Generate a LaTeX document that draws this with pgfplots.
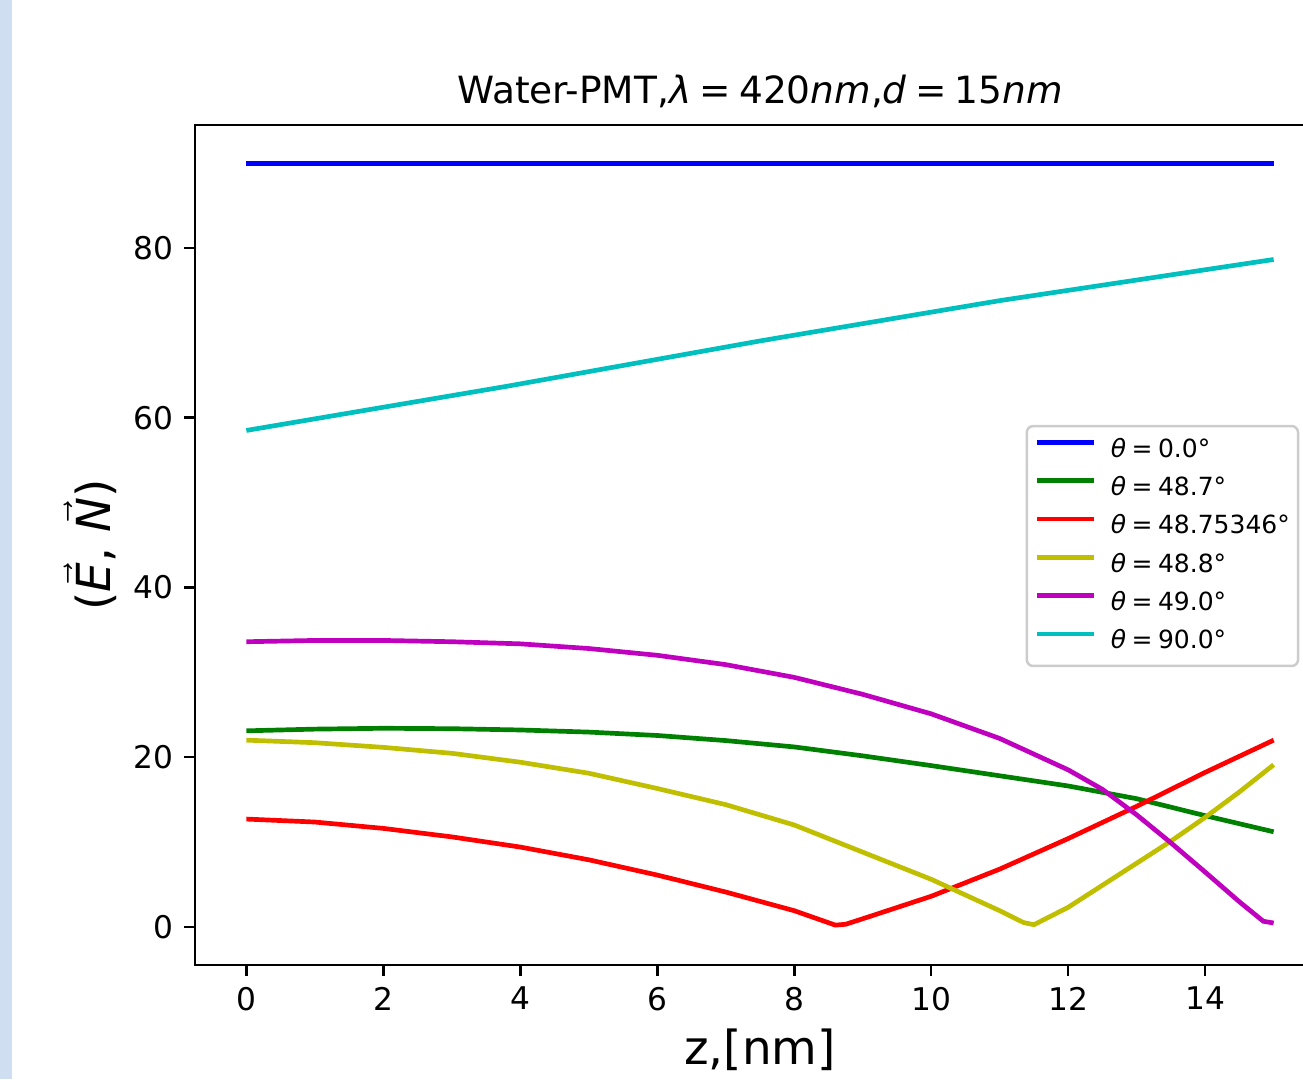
\documentclass[border=0pt]{standalone}
\usepackage{fontspec}
\setmainfont{DejaVu Sans}
\usepackage{amsmath}
\usepackage{pgfplots}
\pgfplotsset{compat=1.18}

\definecolor{mblue}{rgb}{0,0,1}
\definecolor{mgreen}{rgb}{0,0.5,0}
\definecolor{mred}{rgb}{1,0,0}
\definecolor{myellow}{rgb}{0.75,0.75,0}
\definecolor{mmag}{rgb}{0.75,0,0.75}
\definecolor{mcyan}{rgb}{0,0.75,0.75}
\definecolor{strip}{RGB}{207,222,240}

\newcommand{\eqs}{\hspace{0.22em}=\hspace{0.22em}}

\begin{document}
\begin{tikzpicture}
\path[use as bounding box] (-62.4pt,-36.48pt) rectangle (354.56pt,308.8pt);
\clip (-62.4pt,-36.48pt) rectangle (354.56pt,308.8pt);
\fill[strip] (-62.4pt,-36.48pt) rectangle (-58.56pt,308.8pt);
\begin{axis}[
  at={(0pt,0pt)}, anchor=south west, scale only axis,
  width=361.6pt, height=268.8pt,
  xmin=-0.75, xmax=15.75, ymin=-4.5, ymax=94.5,
  xtick={0,2,4,6,8,10,12,14},
  ytick={0,20,40,60,80},
  tick pos=left,
  tick align=outside,
  major tick length=3.5pt,
  every tick/.style={black, line width=0.8pt},
  axis line style={line width=0.8pt},
  /pgf/number format/assume math mode=true,
  ticklabel style={font=\fontsize{10}{12}\selectfont},
  title={Water-PMT,{\itshape λ}\eqs 420{\itshape nm},{\itshape d}\eqs 15{\itshape nm}},
  title style={font=\fontsize{12}{14}\selectfont, yshift=-4.2pt},
  xlabel={z,[nm]},
  ylabel={(\ensuremath{\vec{\textit{E}}}, \ensuremath{\vec{\textit{N}}})},
  label style={font=\fontsize{15}{18}\selectfont},
  ylabel shift=-1.5pt,
  xlabel shift=-1pt,
  legend style={at={(0.735,0.643)}, anchor=north west,
    draw=black!20, line width=0.8pt, rounded corners=2pt,
    fill=white, fill opacity=0.8, text opacity=1,
    font=\fontsize{8}{9.6}\selectfont,
    inner xsep=2.6pt, inner ysep=4pt,
    nodes={inner sep=0pt, text height=6pt, text depth=1.5pt},
    row sep=4.75pt, column sep=4.6pt},
  legend cell align=left,
  legend image code/.code={\draw[#1, line width=1.5pt] (0pt,2.5pt) -- (18.2pt,2.5pt);},
  every axis plot/.append style={line width=1.5pt},
]
\addplot[mblue] coordinates {(0,90) (15,90)};
\addlegendentry{{\itshape θ}\eqs 0.0°}
\addplot[mgreen] coordinates {(0,23.1)(1,23.3)(2,23.4)(3,23.35)(4,23.2)(5,22.95)(6,22.55)(7,21.95)(8,21.2)(9,20.15)(10,19.0)(11,17.8)(12,16.6)(13,15.1)(14,13.1)(15,11.2)};
\addlegendentry{{\itshape θ}\eqs 48.7°}
\addplot[mred] coordinates {(0,12.7)(1,12.35)(2,11.6)(3,10.6)(4,9.4)(5,7.9)(6,6.1)(7,4.1)(8,1.9)(8.6,0.2)(8.75,0.3)(9,0.95)(10,3.6)(11,6.8)(12,10.4)(13,14.2)(14,18.2)(15,22.0)};
\addlegendentry{{\itshape θ}\eqs 48.75346°}
\addplot[myellow] coordinates {(0,22.0)(1,21.7)(2,21.15)(3,20.45)(4,19.4)(5,18.1)(6,16.3)(7,14.4)(8,12.0)(9,8.8)(10,5.6)(11,1.9)(11.35,0.5)(11.5,0.25)(12,2.3)(12.5,4.9)(13,7.5)(13.5,10.1)(14,12.9)(14.5,15.9)(15,19.1)};
\addlegendentry{{\itshape θ}\eqs 48.8°}
\addplot[mmag] coordinates {(0,33.6)(1,33.75)(2,33.75)(3,33.6)(4,33.35)(5,32.8)(6,32.0)(7,30.9)(8,29.4)(9,27.4)(10,25.1)(11,22.2)(12,18.5)(12.5,16.2)(13,13.2)(13.5,9.9)(14,6.45)(14.5,2.95)(14.85,0.65)(15,0.45)};
\addlegendentry{{\itshape θ}\eqs 49.0°}
\addplot[mcyan] coordinates {(0,58.5)(3.8,63.7)(7.5,69.05)(11,73.8)(15,78.65)};
\addlegendentry{{\itshape θ}\eqs 90.0°}
\end{axis}
\end{tikzpicture}
\end{document}
